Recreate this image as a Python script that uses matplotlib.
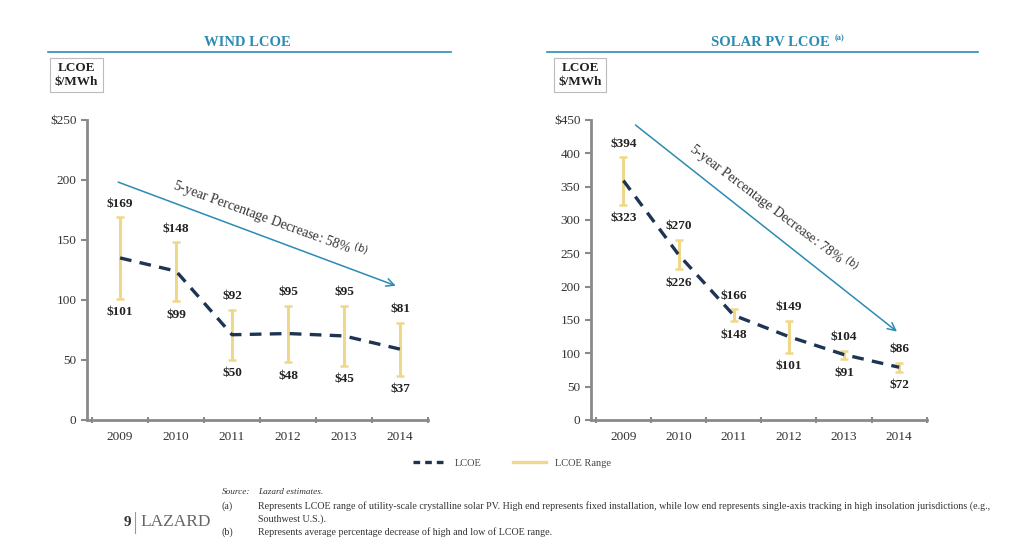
import numpy as np
import matplotlib.pyplot as plt
from matplotlib.lines import Line2D

years = ['2009', '2010', '2011', '2012', '2013', '2014']

wind_high = [169, 148, 92, 95, 95, 81]
wind_low = [101, 99, 50, 48, 45, 37]
wind_lcoe = [135, 124, 71, 72, 70, 59]

solar_high = [394, 270, 166, 149, 104, 86]
solar_low = [323, 226, 148, 101, 91, 72]
solar_lcoe = [359, 248, 157, 125, 98, 79]

plt.rcParams['font.family'] = ['Liberation Serif', 'DejaVu Serif']

TEAL = '#2b8bb3'
NAVY = '#1d3552'
GOLD = '#f0d88a'
GREY = '#8a8a8a'
TXT = '#333333'

fig = plt.figure(figsize=(10.24, 5.54), dpi=100)


def panel(rect, high, low, lcoe, ymax, step, arrow, note, note_xy, note_rot):
	ax = fig.add_axes(rect)
	x = np.arange(len(years))
	high = np.array(high)
	low = np.array(low)
	mid = (high + low) / 2
	ax.errorbar(x, mid, yerr=[mid - low, high - mid], fmt='none', ecolor=GOLD,
		elinewidth=2.2, capsize=3, capthick=1.8, zorder=2)
	ax.plot(x, lcoe, color=NAVY, lw=2.4, ls=(0, (3.5, 2.5)), zorder=3)
	off = ymax * 0.025
	for xi, h, l in zip(x, high, low):
		ax.text(xi, h + off, '$%d' % h, ha='center', va='bottom', fontsize=9.5,
			fontweight='bold', color='#222222')
		ax.text(xi, l - off, '$%d' % l, ha='center', va='top', fontsize=9.5,
			fontweight='bold', color='#222222')
	ax.annotate('', xy=arrow[1], xytext=arrow[0],
		arrowprops=dict(arrowstyle='->', color=TEAL, lw=1.1, mutation_scale=14))
	ax.text(note_xy[0], note_xy[1], note, rotation=note_rot, ha='center', va='center',
		fontsize=10, color='#333333', rotation_mode='anchor')
	ax.set_xlim(-0.59, 5.45)
	ax.set_ylim(0, ymax)
	ticks = np.arange(0, ymax + 1, step)
	ax.set_yticks(ticks)
	ax.set_yticklabels(['$%d' % t if t == ymax else '%d' % t for t in ticks])
	ax.set_xticks(x)
	ax.set_xticklabels(years)
	ax.set_xticks(np.arange(-0.5, 5.6, 1), minor=True)
	ax.tick_params(axis='x', which='major', length=0, pad=8, labelsize=9.5, labelcolor=TXT)
	ax.tick_params(axis='x', which='minor', length=4, width=1.5, color=GREY, direction='inout')
	ax.tick_params(axis='y', length=4, width=1.5, color=GREY, labelsize=9.5, labelcolor=TXT)
	for s in ['top', 'right']:
		ax.spines[s].set_visible(False)
	for s in ['left', 'bottom']:
		ax.spines[s].set_color(GREY)
		ax.spines[s].set_linewidth(2)
	return ax


panel([0.085, 0.242, 0.333, 0.5415], wind_high, wind_low, wind_lcoe, 250, 50,
	((-0.08, 199), (4.97, 111)), r'5-year Percentage Decrease: 58% $^{\rm (b)}$',
	(2.68, 167), -20)
panel([0.577, 0.242, 0.328, 0.5415], solar_high, solar_low, solar_lcoe, 450, 50,
	((0.18, 445), (5.0, 130)), r'5-year Percentage Decrease: 78% $^{\rm (b)}$',
	(2.72, 317), -37)

# titles and rules
for cx, x0, x1, title in [(0.242, 0.047, 0.44, 'WIND LCOE'),
		(0.752, 0.534, 0.955, 'SOLAR PV LCOE')]:
	fig.text(cx, 1 - 42 / 554, title, ha='center', va='center', color=TEAL,
		fontsize=10.5, fontweight='bold')
	fig.add_artist(Line2D([x0, x1], [1 - 52 / 554] * 2, color=TEAL, lw=1.2))
fig.text(0.815, 1 - 38 / 554, '(a)', ha='left', va='center', color=TEAL, fontsize=6,
	fontweight='bold')

for bx in [0.049, 0.541]:
	fig.text(bx + 0.0255, 1 - 75 / 554, 'LCOE\n$/MWh', ha='center', va='center',
		fontsize=9.5, fontweight='bold', linespacing=1.15, color='#222222',
		bbox=dict(boxstyle='square,pad=0.35', fc='white', ec='#bbbbbb', lw=0.8))

# legend
handles = [Line2D([], [], color=NAVY, lw=2.4, ls=(0, (2, 1.5))),
	Line2D([], [], color=GOLD, lw=2.4)]
fig.legend(handles, ['LCOE', 'LCOE Range'], loc='center', bbox_to_anchor=(0.5, 1 - 463 / 554),
	ncol=2, frameon=False, fontsize=7.5, handlelength=3.2, columnspacing=3,
	labelcolor='#444444')

# footnotes
fs = 7.2
fig.text(222 / 1024, 1 - 492 / 554, 'Source:', fontsize=fs - 0.5, style='italic', va='center', color=TXT)
fig.text(258 / 1024, 1 - 492 / 554, 'Lazard estimates.', fontsize=fs - 0.5, style='italic', va='center', color=TXT)
fig.text(222 / 1024, 1 - 506 / 554, '(a)', fontsize=fs, va='center', color=TXT)
fig.text(258 / 1024, 1 - 506 / 554, 'Represents LCOE range of utility-scale crystalline solar PV. High end represents fixed installation, while low end represents single-axis tracking in high insolation jurisdictions (e.g.,',
	fontsize=fs, va='center', color=TXT)
fig.text(258 / 1024, 1 - 519 / 554, 'Southwest U.S.).', fontsize=fs, va='center', color=TXT)
fig.text(222 / 1024, 1 - 532 / 554, '(b)', fontsize=fs, va='center', color=TXT)
fig.text(258 / 1024, 1 - 532 / 554, 'Represents average percentage decrease of high and low of LCOE range.',
	fontsize=fs, va='center', color=TXT)

fig.text(127 / 1024, 1 - 522 / 554, '9', fontsize=11, fontweight='bold', va='center', ha='center', color='#333333')
fig.add_artist(Line2D([135 / 1024] * 2, [1 - 512 / 554, 1 - 533 / 554], color='#999999', lw=0.8))
fig.text(140 / 1024, 1 - 522 / 554, 'LAZARD', fontsize=12.5, va='center', ha='left', color='#666666')

fig.savefig('out.png', dpi=100, facecolor='white')
